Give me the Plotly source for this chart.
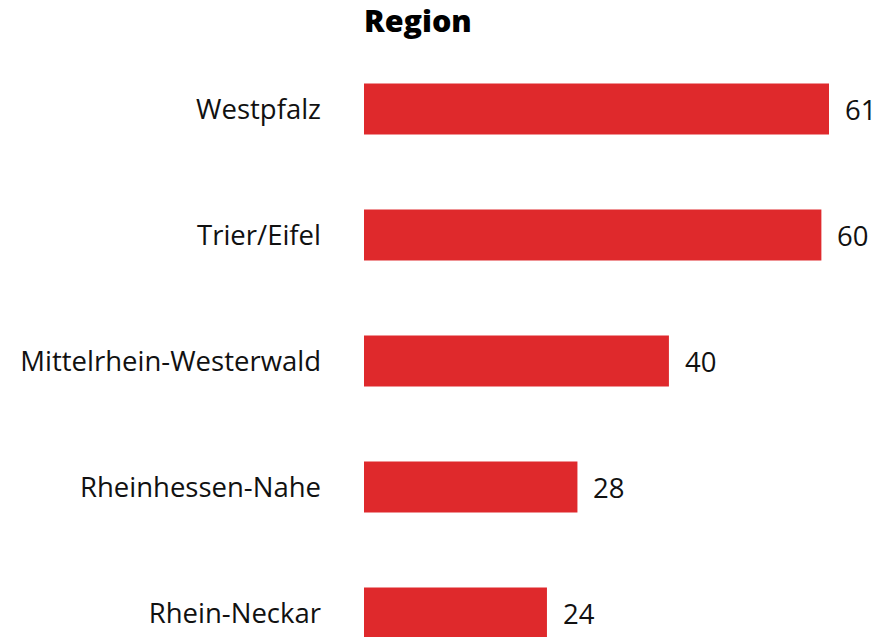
import plotly.graph_objects as go

regions = ["Westpfalz", "Trier/Eifel", "Mittelrhein-Westerwald", "Rheinhessen-Nahe", "Rhein-Neckar"]
values = [61, 60, 40, 28, 24]

bar_color = "#DF292C"
font_family = "Open Sans, Noto Sans, sans-serif"

fig = go.Figure()
fig.add_trace(
    go.Bar(
        x=values,
        y=regions,
        orientation="h",
        marker=dict(color=bar_color, line_width=0),
        width=0.405,
        hoverinfo="x+y",
    )
)

# value labels to the right of each bar
for r, v in zip(regions, values):
    fig.add_annotation(
        x=v, y=r, text=str(v), showarrow=False,
        xanchor="left", yanchor="middle", xshift=14,
        font=dict(family=font_family, size=27.5, color="#111111"),
    )

W, H = 894, 637
off = 8  # page body margin shifts the figure by 8px
top = 46 - off
left = 364 - off
px_per_unit = 465 / 61
row_px = 126

fig.update_xaxes(
    range=[0, (W - left) / px_per_unit],
    visible=False, showgrid=False, zeroline=False,
)
fig.update_yaxes(
    type="category",
    range=[-0.5 + (H - top) / row_px, -0.5],
    showgrid=False, zeroline=False, showline=False,
    ticks="", ticklabelstandoff=42,
    tickfont=dict(family=font_family, size=27.5, color="#111111"),
)

fig.update_layout(
    width=W,
    height=H,
    margin=dict(l=left, r=0, t=top, b=0),
    paper_bgcolor="white",
    plot_bgcolor="white",
    showlegend=False,
    title=dict(
        text="Region",
        x=0, xref="paper", xanchor="left",
        y=1 - 13 / H, yref="container", yanchor="middle",
        font=dict(family=font_family, size=30.5, color="#000000", weight=800),
    ),
)

fig.write_html("out.html")
